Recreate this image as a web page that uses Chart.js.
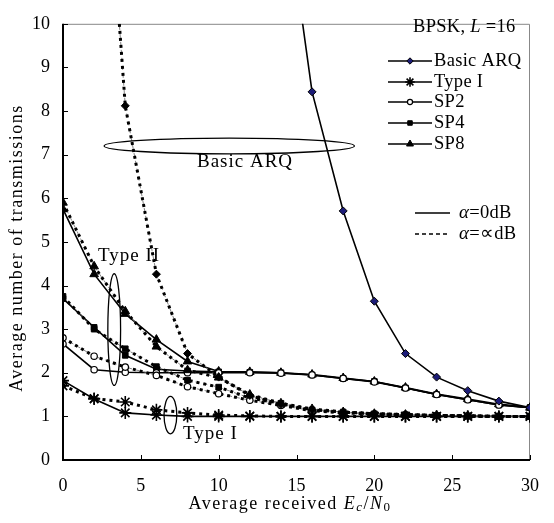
<!DOCTYPE html>
<html>
<head>
<meta charset="utf-8">
<script src="https://cdn.jsdelivr.net/npm/chart.js@4.4.1/dist/chart.umd.min.js"></script>
<style>
  html, body { margin: 0; padding: 0; background: #fff; }
</style>
</head>
<body>
<canvas id="chart" width="554" height="523"></canvas>
<script>
// Ec/N0 points (dB)
const snr = [0, 2, 4, 6, 8, 10, 12, 14, 16, 18, 20, 22, 24, 26, 28, 30];

// alpha = 0 dB (solid)
const basicArq0 = [null, null, null, null, null, null, null, 13.6, 8.44, 5.71, 3.64, 2.44, 1.9, 1.59, 1.35, 1.2];
const typeI0    = [1.82, 1.4, 1.08, 1.03, 1.0, 1.0, 1.0, 1.0, 1.0, 1.0, 1.0, 1.0, 1.0, 1.0, 1.0, 1.0];
const sp2_0     = [2.66, 2.07, 2.01, 2.0, 2.0, 2.0, 2.0, 1.99, 1.95, 1.87, 1.79, 1.65, 1.5, 1.38, 1.26, 1.2];
const sp4_0     = [3.7, 3.04, 2.4, 2.08, 2.04, 2.02, 2.01, 2.0, 1.95, 1.87, 1.8, 1.65, 1.5, 1.38, 1.26, 1.2];
const sp8_0     = [5.75, 4.26, 3.35, 2.76, 2.26, 2.03, 2.02, 2.0, 1.96, 1.88, 1.8, 1.66, 1.51, 1.4, 1.28, 1.2];

// alpha = inf dB (dashed)
const basicArqInf = [null, 18, 8.12, 4.26, 2.44, 1.9, 1.48, 1.27, 1.15, 1.1, 1.06, 1.04, 1.02, 1.01, 1.0, 1.0];
const typeIInf    = [1.7, 1.41, 1.33, 1.15, 1.08, 1.03, 1.01, 1.0, 1.0, 1.0, 1.0, 1.0, 1.0, 1.0, 1.0, 1.0];
const sp2Inf      = [2.8, 2.38, 2.13, 1.94, 1.68, 1.52, 1.37, 1.25, 1.13, 1.08, 1.05, 1.03, 1.02, 1.01, 1.0, 1.0];
const sp4Inf      = [3.75, 3.0, 2.55, 2.14, 1.83, 1.67, 1.42, 1.3, 1.15, 1.1, 1.06, 1.04, 1.02, 1.01, 1.0, 1.0];
const sp8Inf      = [5.9, 4.44, 3.41, 2.6, 2.06, 1.89, 1.5, 1.3, 1.17, 1.1, 1.06, 1.04, 1.02, 1.01, 1.0, 1.0];

const xTicks = [0, 5, 10, 15, 20, 25, 30];
const yTicks = [0, 1, 2, 3, 4, 5, 6, 7, 8, 9, 10];

const legendNames = ["Basic ARQ", "Type I", "SP2", "SP4", "SP8"];

const SERIF = '"Liberation Serif", "Times New Roman", serif';
const NAVY = "#1c1c78";

function pts(arr) {
  return snr.map((x, i) => ({ x: x, y: arr[i] }));
}

const marks = {
  basic:  { pointStyle: "rectRot", pointRadius: 4, pointBorderWidth: 1 },
  typeI:  { pointStyle: "star", pointRadius: 6, pointBorderWidth: 1.6 },
  sp2:    { pointStyle: "circle", pointRadius: 3.2, pointBorderWidth: 1.2 },
  sp4:    { pointStyle: "rect", pointRadius: 4, pointBorderWidth: 1 },
  sp8:    { pointStyle: "triangle", pointRadius: 5, pointBorderWidth: 1 }
};

function solid(label, arr, m, fill) {
  return Object.assign({
    label: label, data: pts(arr), borderColor: "#000", borderWidth: 1.6,
    pointBackgroundColor: fill || "#000", pointBorderColor: "#000", tension: 0
  }, m);
}
function dotted(label, arr, m, fill) {
  return Object.assign({
    label: label, data: pts(arr), borderColor: "#000", borderWidth: 3,
    borderDash: [3, 4], borderCapStyle: "butt",
    pointBackgroundColor: fill || "#000", pointBorderColor: "#000", tension: 0
  }, m);
}
function thin(label, arr) {
  return {
    label: label, data: pts(arr), borderColor: "#666", borderWidth: 0.8,
    borderDash: [4, 4], pointRadius: 0, tension: 0
  };
}

const datasets = [
  dotted("Basic ARQ inf", basicArqInf, marks.basic),
  dotted("Type I inf", typeIInf, marks.typeI),
  dotted("SP2 inf", sp2Inf, marks.sp2, "#fff"),
  dotted("SP4 inf", sp4Inf, marks.sp4),
  dotted("SP8 inf", sp8Inf, marks.sp8),
  thin("Basic ARQ inf fine", basicArqInf),
  thin("SP8 inf fine", sp8Inf),
  thin("SP4 inf fine", sp4Inf),
  thin("SP2 inf fine", sp2Inf),
  solid("Basic ARQ", basicArq0, marks.basic, NAVY),
  solid("Type I", typeI0, marks.typeI),
  solid("SP2", sp2_0, marks.sp2, "#fff"),
  solid("SP4", sp4_0, marks.sp4),
  solid("SP8", sp8_0, marks.sp8)
];

// grouping ellipses in data units: [cx, cy, rx, ry]
const ellipses = [
  [10.68, 7.2, 8.04, 0.18],
  [3.29, 2.99, 0.41, 1.28],
  [6.9, 1.03, 0.41, 0.43]
];

function drawRuns(ctx, parts, x, y, align) {
  let w = 0;
  parts.forEach(p => { ctx.font = p.font; w += ctx.measureText(p.t).width; });
  let cx = align === "center" ? x - w / 2 : x;
  parts.forEach(p => {
    ctx.font = p.font;
    ctx.fillText(p.t, cx, y + (p.dy || 0));
    cx += ctx.measureText(p.t).width;
  });
}

const decor = {
  id: "decor",
  beforeDatasetsDraw(chart) {
    const { ctx, chartArea: a } = chart;
    ctx.save();
    ctx.strokeStyle = "#888";
    ctx.lineWidth = 1;
    ctx.beginPath();
    ctx.moveTo(a.left, a.top + 0.5);
    ctx.lineTo(a.right - 0.5, a.top + 0.5);
    ctx.lineTo(a.right - 0.5, a.bottom);
    ctx.stroke();
    ctx.restore();
  },
  afterDatasetsDraw(chart) {
    const { ctx, chartArea: a, scales } = chart;
    const sx = scales.x, sy = scales.y;
    ctx.save();

    // axes and inward tick marks
    ctx.strokeStyle = "#000";
    ctx.lineWidth = 2;
    ctx.beginPath();
    ctx.moveTo(a.left, a.top);
    ctx.lineTo(a.left, a.bottom);
    ctx.lineTo(a.right, a.bottom);
    ctx.stroke();
    ctx.lineWidth = 1;
    ctx.beginPath();
    yTicks.forEach(v => {
      const py = Math.round(sy.getPixelForValue(v)) + 0.5;
      ctx.moveTo(a.left, py); ctx.lineTo(a.left + 5, py);
    });
    xTicks.forEach(v => {
      const px = Math.round(sx.getPixelForValue(v)) + 0.5;
      ctx.moveTo(px, a.bottom); ctx.lineTo(px, a.bottom - 5);
    });
    ctx.stroke();

    // grouping ellipses
    ctx.lineWidth = 1.3;
    ellipses.forEach(e => {
      const cx = sx.getPixelForValue(e[0]), cy = sy.getPixelForValue(e[1]);
      const rx = sx.getPixelForValue(e[0] + e[2]) - cx;
      const ry = cy - sy.getPixelForValue(e[1] + e[3]);
      ctx.beginPath();
      ctx.ellipse(cx, cy, rx, ry, 0, 0, Math.PI * 2);
      ctx.stroke();
    });

    ctx.fillStyle = "#000";
    ctx.textBaseline = "middle";
    ctx.textAlign = "left";
    ctx.font = "19px " + SERIF;
    ctx.letterSpacing = "1px";
    ctx.fillText("Basic ARQ", 197, 162);
    ctx.fillText("Type II", 98, 256);
    ctx.fillText("Type I", 183, 434);

    // legend
    ctx.letterSpacing = "0.3px";
    drawRuns(ctx, [
      { t: "BPSK, ", font: "18.5px " + SERIF },
      { t: "L", font: "italic 18.5px " + SERIF },
      { t: " =16", font: "18.5px " + SERIF }
    ], 413, 27, "left");

    const rows = [61, 82, 102, 123, 144];
    const styles = [
      [marks.basic, NAVY], [marks.typeI, "#000"], [marks.sp2, "#fff"],
      [marks.sp4, "#000"], [marks.sp8, "#000"]
    ];
    legendNames.forEach((name, i) => {
      const y = rows[i];
      ctx.strokeStyle = "#000";
      ctx.lineWidth = 1.5;
      ctx.setLineDash([]);
      ctx.beginPath();
      ctx.moveTo(388, y); ctx.lineTo(432, y);
      ctx.stroke();
      const m = styles[i][0];
      ctx.fillStyle = styles[i][1];
      ctx.lineWidth = m.pointBorderWidth;
      Chart.helpers.drawPoint(ctx, {
        pointStyle: m.pointStyle, radius: m.pointRadius * 0.8,
        borderWidth: m.pointBorderWidth, rotation: 0
      }, 410, y);
      ctx.fillStyle = "#000";
      ctx.font = "18.5px " + SERIF;
      ctx.fillText(name, 434, y);
    });

    ctx.strokeStyle = "#000";
    ctx.lineWidth = 1.3;
    ctx.beginPath();
    ctx.moveTo(415, 213); ctx.lineTo(450, 213);
    ctx.stroke();
    ctx.lineWidth = 1.5;
    ctx.setLineDash([4, 3]);
    ctx.beginPath();
    ctx.moveTo(415, 234); ctx.lineTo(450, 234);
    ctx.stroke();
    ctx.setLineDash([]);
    drawRuns(ctx, [
      { t: "\u03b1", font: "italic 19px " + SERIF },
      { t: "=0dB", font: "18.5px " + SERIF }
    ], 459, 213, "left");
    drawRuns(ctx, [
      { t: "\u03b1", font: "italic 19px " + SERIF },
      { t: "=\u221ddB", font: "18.5px " + SERIF }
    ], 459, 234, "left");

    // axis titles
    ctx.letterSpacing = "1.5px";
    drawRuns(ctx, [
      { t: "Average received ", font: "18px " + SERIF },
      { t: "E", font: "italic 18px " + SERIF },
      { t: "c", font: "italic 13px " + SERIF, dy: 4 },
      { t: "/", font: "18px " + SERIF },
      { t: "N", font: "italic 18px " + SERIF },
      { t: "0", font: "13px " + SERIF, dy: 4 }
    ], 290, 504, "center");

    ctx.translate(17, 248);
    ctx.rotate(-Math.PI / 2);
    ctx.textAlign = "center";
    ctx.font = "18px " + SERIF;
    ctx.fillText("Average number of transmissions", 0, 0);
    ctx.restore();
  }
};

new Chart(document.getElementById("chart"), {
  type: "line",
  data: { datasets: datasets },
  plugins: [decor],
  options: {
    responsive: false,
    animation: false,
    devicePixelRatio: 1,
    layout: { padding: { top: 10, right: 10, left: 0, bottom: 0 } },
    plugins: { legend: { display: false }, tooltip: { enabled: false } },
    scales: {
      x: {
        type: "linear", min: 0, max: 30,
        afterBuildTicks: s => { s.ticks = xTicks.map(v => ({ value: v })); },
        afterFit: s => { s.height = 63; },
        ticks: { color: "#000", padding: 15, maxRotation: 0, font: { family: SERIF, size: 18 } },
        grid: { display: false, drawTicks: false },
        border: { display: false }
      },
      y: {
        min: 0, max: 10,
        afterBuildTicks: s => { s.ticks = yTicks.map(v => ({ value: v })); },
        afterFit: s => { s.width = 63; },
        ticks: { color: "#000", padding: 13, font: { family: SERIF, size: 18 } },
        grid: { display: false, drawTicks: false },
        border: { display: false }
      }
    }
  }
});
</script>
</body>
</html>
